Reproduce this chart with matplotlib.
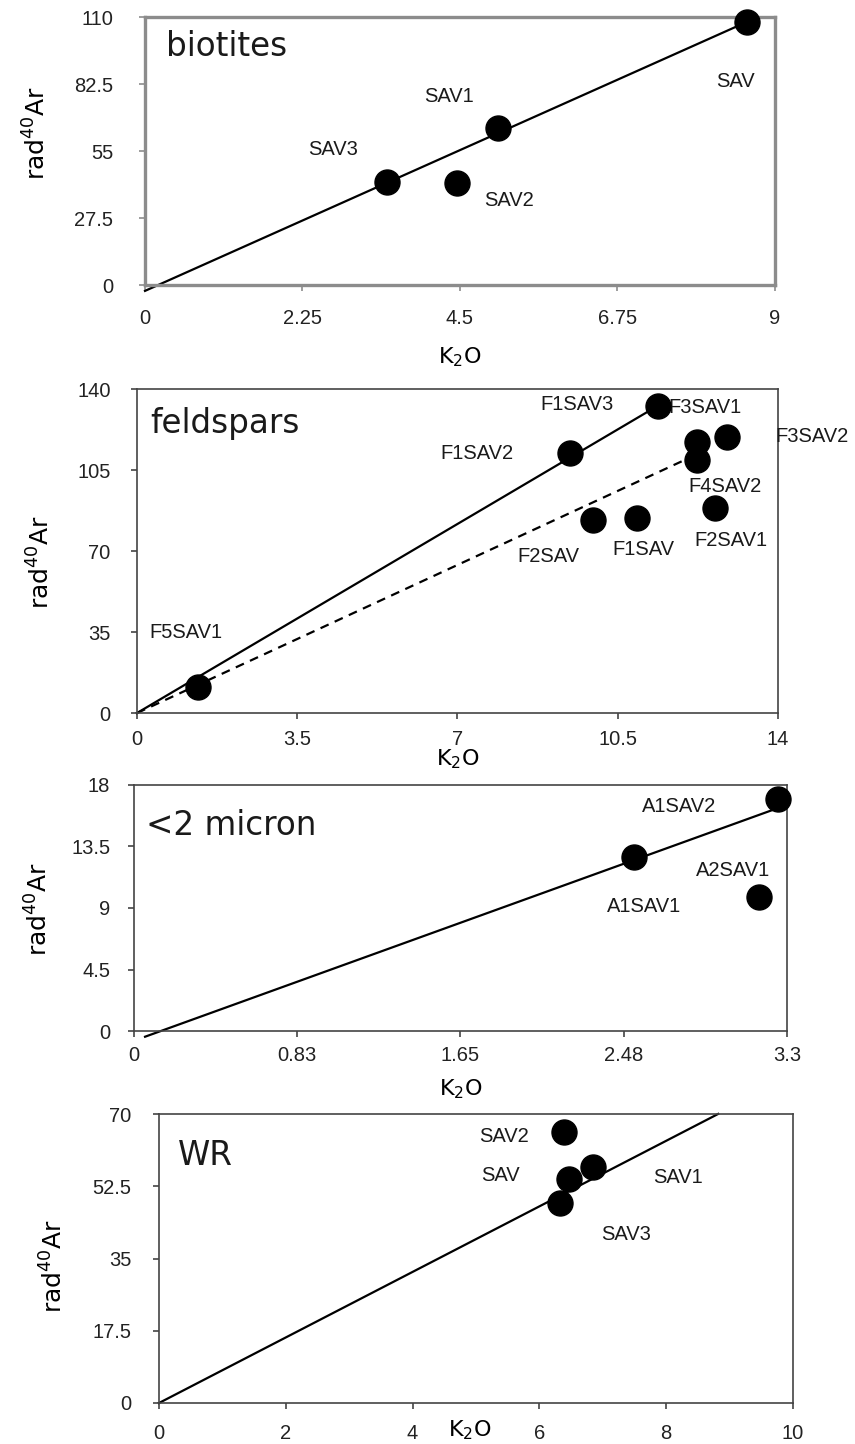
"""K2O vs radiogenic 40Ar isochron-style panels (biotites, feldspars, <2 micron, WR)."""

import matplotlib

matplotlib.use("Agg")
import matplotlib.pyplot as plt

# --- data --------------------------------------------------------------------
bio_names = ["SAV", "SAV1", "SAV3", "SAV2"]
bio_k2o = [8.6, 5.05, 3.46, 4.46]
bio_ar = [108.0, 64.4, 42.4, 41.8]
bio_fit = [(12.84, -2.4, 0.0, 8.6, "-")]  # slope, intercept, x0, x1, style
bio_xticks = [0, 2.25, 4.5, 6.75, 9]
bio_xticklabels = ["0", "2.25", "4.5", "6.75", "9"]
bio_yticks = [0, 27.5, 55, 82.5, 110]
bio_yticklabels = ["0", "27.5", "55", "82.5", "110"]

fel_names = ["F1SAV3", "F3SAV1", "F3SAV2", "F1SAV2", "F4SAV2",
             "F2SAV1", "F1SAV", "F2SAV", "F5SAV1"]
fel_k2o = [11.37, 12.24, 12.89, 9.45, 12.24, 12.63, 10.93, 9.97, 1.33]
fel_ar = [132.7, 117.1, 119.3, 112.3, 109.3, 88.6, 84.3, 83.4, 11.2]
fel_fit = [(11.67, 0.0, 0.0, 11.37, "-"), (9.14, 0.0, 0.0, 12.1, "--")]
fel_xticks = [0, 3.5, 7, 10.5, 14]
fel_xticklabels = ["0", "3.5", "7", "10.5", "14"]
fel_yticks = [0, 35, 70, 105, 140]
fel_yticklabels = ["0", "35", "70", "105", "140"]

mic_names = ["A1SAV2", "A2SAV1", "A1SAV1"]
mic_k2o = [3.255, 3.158, 2.527]
mic_ar = [17.0, 9.83, 12.75]
mic_fit = [(5.23, -0.71, 0.056, 3.25, "-")]
mic_xticks = [0, 0.825, 1.65, 2.475, 3.3]
mic_xticklabels = ["0", "0.83", "1.65", "2.48", "3.3"]
mic_yticks = [0, 4.5, 9, 13.5, 18]
mic_yticklabels = ["0", "4.5", "9", "13.5", "18"]

wr_names = ["SAV2", "SAV", "SAV1", "SAV3"]
wr_k2o = [6.39, 6.46, 6.84, 6.32]
wr_ar = [65.6, 54.2, 57.1, 48.5]
wr_fit = [(7.94, 0.0, 0.0, 8.82, "-")]
wr_xticks = [0, 2, 4, 6, 8, 10]
wr_xticklabels = ["0", "2", "4", "6", "8", "10"]
wr_yticks = [0, 17.5, 35, 52.5, 70]
wr_yticklabels = ["0", "17.5", "35", "52.5", "70"]

# --- label placement (data coords), kept apart from the values ---------------
bio_label_pos = [(8.44, 83.4), (4.35, 77.4), (2.69, 55.8), (5.2, 34.6)]
fel_label_pos = [(9.6, 133.1), (12.4, 132.2), (14.75, 119.3), (7.43, 112.3),
                 (12.85, 98.0), (12.98, 74.4), (11.06, 70.5), (8.99, 67.5),
                 (1.07, 34.6)]
mic_label_pos = [(2.755, 16.41), (3.027, 11.73), (2.577, 9.1)]
wr_label_pos = [(5.44, 64.5), (5.38, 55.2), (8.19, 54.7), (7.37, 40.9)]

LABEL_FONT = "Liberation Sans"
TITLE_FONT = "DejaVu Sans"


def draw_panel(ax, names, k2o, ar, fits, label_pos, title, title_xy,
               xticks, xticklabels, yticks, yticklabels, xlim, ylim,
               frame_color, frame_width, xpad, ypad, xlabel_xy, ylabel_xy):
    """Draw one K2O / rad40Ar panel."""

    for slope, intercept, x0, x1, style in fits:
        ax.plot([x0, x1], [slope * x0 + intercept, slope * x1 + intercept],
                color="black", lw=1.6, ls=style,
                dashes=(4, 3) if style == "--" else (None, None),
                zorder=2, clip_on=False)
    ax.plot(k2o, ar, "o", color="black", ms=18, zorder=4, clip_on=False)
    for name, (tx, ty) in zip(names, label_pos):
        ax.text(tx, ty, name, ha="center", va="center", fontsize=14.5,
                family=LABEL_FONT, color="#1a1a1a", zorder=3, clip_on=False)
    ax.text(title_xy[0], title_xy[1], title, ha="left", va="center",
            fontsize=23.5, family=TITLE_FONT, color="#1a1a1a")

    ax.set_xlim(*xlim)
    ax.set_ylim(*ylim)
    ax.set_xticks(xticks)
    ax.set_xticklabels(xticklabels)
    ax.set_yticks(yticks)
    ax.set_yticklabels(yticklabels)
    ax.tick_params(axis="x", direction="out", length=4, width=1.2,
                   color=frame_color, pad=xpad, labelsize=14.5)
    ax.tick_params(axis="y", direction="out", length=4, width=1.2,
                   color=frame_color, pad=ypad, labelsize=14.5)
    for lab in ax.get_xticklabels() + ax.get_yticklabels():
        lab.set_family(LABEL_FONT)
        lab.set_color("#222222")
    for spine in ax.spines.values():
        spine.set_color(frame_color)
        spine.set_linewidth(frame_width)

    ax.set_xlabel("K$_2$O", fontsize=16, family=TITLE_FONT)
    ax.xaxis.set_label_coords(*xlabel_xy)
    ax.set_ylabel("rad$^{40}$Ar", fontsize=18, family=TITLE_FONT)
    ax.yaxis.set_label_coords(*ylabel_xy)


def main() -> None:
    fig = plt.figure(figsize=(8.55, 14.44), dpi=100)

    ax1 = fig.add_axes([0.1696, 0.8026, 0.7368, 0.1856])
    draw_panel(ax1, bio_names, bio_k2o, bio_ar, bio_fit, bio_label_pos,
               "biotites", (0.3, 97.8), bio_xticks, bio_xticklabels,
               bio_yticks, bio_yticklabels, (0, 9), (0, 110),
               "#8c8c8c", 2.4, 13, 19, (0.5, -0.225), (-0.15, 0.567))

    ax2 = fig.add_axes([0.1602, 0.5062, 0.7497, 0.2244])
    draw_panel(ax2, fel_names, fel_k2o, fel_ar, fel_fit, fel_label_pos,
               "feldspars", (0.3, 125.3), fel_xticks, fel_xticklabels,
               fel_yticks, fel_yticklabels, (0, 14), (0, 140),
               "#444444", 1.2, 8, 15, (0.5, -0.105), (-0.128, 0.466))

    ax3 = fig.add_axes([0.1567, 0.2860, 0.7637, 0.1704])
    draw_panel(ax3, mic_names, mic_k2o, mic_ar, mic_fit, mic_label_pos,
               "<2 micron", (0.06, 15.07), mic_xticks, mic_xticklabels,
               mic_yticks, mic_yticklabels, (0, 3.3), (0, 18),
               "#444444", 1.2, 7, 13, (0.5, -0.19), (-0.124, 0.496))

    ax4 = fig.add_axes([0.1860, 0.0284, 0.7415, 0.2001])
    draw_panel(ax4, wr_names, wr_k2o, wr_ar, wr_fit, wr_label_pos,
               "WR", (0.3, 60.0), wr_xticks, wr_xticklabels,
               wr_yticks, wr_yticklabels, (0, 10), (0, 70),
               "#444444", 1.2, 11, 16, (0.49, -0.055), (-0.1435, 0.474))

    fig.savefig("out.png", dpi=100)
    plt.close(fig)


if __name__ == "__main__":
    main()
